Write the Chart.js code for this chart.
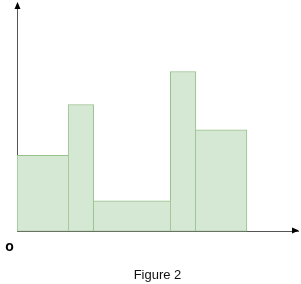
<!DOCTYPE html>
<html>
<head>
<meta charset="utf-8">
<script src="https://cdn.jsdelivr.net/npm/chart.js@4.4.1/dist/chart.umd.min.js"></script>
<style>
  html, body { margin: 0; padding: 0; background: #fff; }
  canvas { display: block; }
</style>
</head>
<body>
<canvas id="histChart" width="301" height="284"></canvas>
<script>
// class boundaries along the x axis (bars touch each other)
var binStarts = [0, 2, 3, 6, 7];
var binEnds = [2, 3, 6, 7, 9];
// bar heights
var binHeights = [3, 5, 1.2, 6.3, 4];
var xMax = 11;
var yMax = 9;
var originLabel = 'o';
var captionText = 'Figure 2';

var fillColor = '#d5e8d4';
var edgeColor = '#97c08a';
var axisColor = '#555';

// one dataset per bar so each one can get its own width
var datasets = binHeights.map(function (h, i) {
    var prev = i > 0 ? binHeights[i - 1] : 0;
    var next = i < binHeights.length - 1 ? binHeights[i + 1] : 0;
    return {
        data: [{ x: (binStarts[i] + binEnds[i]) / 2, y: h }],
        backgroundColor: fillColor,
        borderColor: edgeColor,
        // shared edge is drawn only once, by the taller neighbour
        borderWidth: {
            top: 1,
            bottom: 1,
            left: h >= prev ? 1 : 0,
            right: h > next ? 1 : 0
        },
        borderSkipped: false,
        stack: 'bins',
        barThickness: 10
    };
});

// bar widths come from the x scale once it is laid out
var binWidths = {
    id: 'binWidths',
    afterLayout: function (chart) {
        var x = chart.scales.x;
        chart.data.datasets.forEach(function (ds, i) {
            ds.barThickness = x.getPixelForValue(binEnds[i]) - x.getPixelForValue(binStarts[i]);
        });
    }
};

var axisArrows = {
    id: 'axisArrows',
    afterDraw: function (chart) {
        var ctx = chart.ctx;
        var a = chart.chartArea;
        var lx = Math.round(a.left) + 0.5;
        var by = Math.round(a.bottom) - 0.5;
        ctx.save();
        ctx.fillStyle = '#000';
        // up arrow on y axis
        ctx.beginPath();
        ctx.moveTo(lx, a.top - 1);
        ctx.lineTo(lx - 3, a.top + 6);
        ctx.lineTo(lx + 3, a.top + 6);
        ctx.closePath();
        ctx.fill();
        // right arrow on x axis
        ctx.beginPath();
        ctx.moveTo(a.right + 1, by);
        ctx.lineTo(a.right - 6, by - 3);
        ctx.lineTo(a.right - 6, by + 3);
        ctx.closePath();
        ctx.fill();
        // origin label
        ctx.font = 'bold 14px Arial, "Liberation Sans"';
        ctx.textAlign = 'center';
        ctx.textBaseline = 'middle';
        ctx.fillText(originLabel, a.left - 7.5, a.bottom + 16);
        ctx.restore();
    }
};

var config = {
    type: 'bar',
    data: { datasets: datasets },
    options: {
        responsive: false,
        animation: false,
        layout: { padding: { left: 17, right: 3, top: 3, bottom: 0 } },
        plugins: {
            legend: { display: false },
            tooltip: { enabled: false }
        },
        scales: {
            x: {
                type: 'linear',
                min: 0,
                max: xMax,
                offset: false,
                grid: { display: false, drawTicks: false, offset: false },
                ticks: { display: false },
                border: { display: true, color: axisColor, width: 1 },
                title: {
                    display: true,
                    text: captionText,
                    color: '#111',
                    font: { family: 'Arial, "Liberation Sans"', size: 13 },
                    padding: { top: 36, bottom: 1 }
                }
            },
            y: {
                min: 0,
                max: yMax,
                stacked: false,
                grid: { display: false, drawTicks: false },
                ticks: { display: false },
                border: { display: true, color: axisColor, width: 1 }
            }
        }
    },
    plugins: [binWidths, axisArrows]
};

var ctx = document.getElementById('histChart');
window.histChart = new Chart(ctx, config);
window.histChart.update();
</script>
</body>
</html>
